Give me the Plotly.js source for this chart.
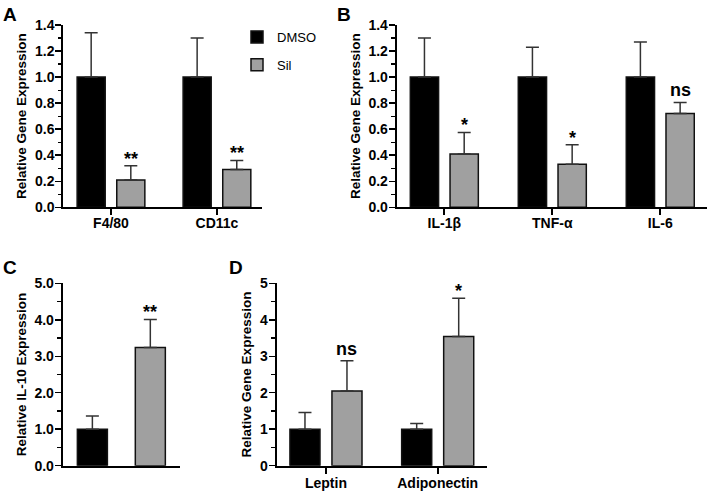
<!DOCTYPE html>
<html>
<head>
<meta charset="utf-8">
<script src="https://cdn.plot.ly/plotly-3.0.1.min.js"></script>
<style>html,body{margin:0;padding:0;background:#fff;}#chart{width:709px;height:491px;}</style>
</head>
<body>
<div id="chart"></div>
<script>
// ---- Data ----
const seriesNames = ['DMSO', 'Sil'];

const aCategories = ['F4/80', 'CD11c'];
const aDmso = [1.0, 1.0];
const aDmsoErr = [0.34, 0.30];
const aSil = [0.21, 0.29];
const aSilErr = [0.11, 0.07];
const aSig = ['**', '**'];

const bCategories = ['IL-1β', 'TNF-α', 'IL-6'];
const bDmso = [1.0, 1.0, 1.0];
const bDmsoErr = [0.30, 0.23, 0.27];
const bSil = [0.41, 0.33, 0.72];
const bSilErr = [0.165, 0.15, 0.085];
const bSig = ['*', '*', 'ns'];

const cCategories = ['IL-10'];
const cDmso = [1.0];
const cDmsoErr = [0.36];
const cSil = [3.24];
const cSilErr = [0.77];
const cSig = ['**'];

const dCategories = ['Leptin', 'Adiponectin'];
const dDmso = [1.0, 1.0];
const dDmsoErr = [0.46, 0.16];
const dSil = [2.05, 3.54];
const dSilErr = [0.83, 1.05];
const dSig = ['ns', '*'];

const yTitles = {
  A: 'Relative Gene Expression',
  B: 'Relative Gene Expression',
  C: 'Relative IL-10 Expression',
  D: 'Relative Gene Expression'
};
const panelLetters = ['A', 'B', 'C', 'D'];

// ---- Styles ----
const FONT = 'Liberation Sans, Arial, Helvetica, sans-serif';
const colors = { DMSO: '#000000', Sil: '#a0a0a0' };
const W = 709, H = 491;

const panels = [
  { key: 'A', cats: aCategories, dm: aDmso, dmE: aDmsoErr, si: aSil, siE: aSilErr, sig: aSig,
    xa: 'x', ya: 'y', px: [63.3, 262], py: [25, 207.3], xr: [-0.45, 1.425], yr: [0, 1.4], dtick: 0.2, minor: 0.1, fmt: '.1f',
    d: 0.187, w: 0.265, showX: true, legend: true },
  { key: 'B', cats: bCategories, dm: bDmso, dmE: bDmsoErr, si: bSil, siE: bSilErr, sig: bSig,
    xa: 'x2', ya: 'y2', px: [396.7, 706.7], py: [25, 207.3], xr: [-0.441, 2.43], yr: [0, 1.4], dtick: 0.2, minor: 0.1, fmt: '.1f',
    d: 0.184, w: 0.262, showX: true },
  { key: 'C', cats: cCategories, dm: cDmso, dmE: cDmsoErr, si: cSil, siE: cSilErr, sig: cSig,
    xa: 'x3', ya: 'y3', px: [62.7, 180], py: [283.3, 465.7], xr: [-0.5, 0.5], yr: [0, 5], dtick: 1, minor: 0.5, fmt: '.1f',
    d: 0.247, w: 0.256, showX: false },
  { key: 'D', cats: dCategories, dm: dDmso, dmE: dDmsoErr, si: dSil, siE: dSilErr, sig: dSig,
    xa: 'x4', ya: 'y4', px: [276.7, 487.3], py: [283.3, 465.7], xr: [-0.441, 1.444], yr: [0, 5], dtick: 1, minor: 0.5, fmt: 'd',
    d: 0.188, w: 0.269, showX: true }
];

const traces = [];
const annotations = [];
const layout = {
  width: W, height: H,
  margin: { l: 0, r: 0, t: 0, b: 0 },
  paper_bgcolor: '#fff', plot_bgcolor: 'rgba(0,0,0,0)',
  barmode: 'overlay',
  showlegend: true,
  legend: {
    x: 237 / W, y: 1 - 22 / H, xanchor: 'left', yanchor: 'top',
    font: { family: FONT, size: 13, color: '#000' },
    bgcolor: 'rgba(0,0,0,0)', tracegroupgap: 8, traceorder: 'grouped'
  },
  font: { family: FONT, color: '#000' },
  annotations: annotations
};

function errBar(arr) {
  return { type: 'data', array: arr, arrayminus: arr.map(() => 0), symmetric: false,
           color: '#333333', thickness: 1.5, width: 6.5, visible: true };
}

panels.forEach((p, pi) => {
  const idx = p.cats.map((c, i) => i);
  [['DMSO', p.dm, p.dmE, -p.d], ['Sil', p.si, p.siE, p.d]].forEach(([name, vals, errs, off]) => {
    traces.push({
      type: 'bar', name: name, x: idx, y: vals,
      xaxis: p.xa, yaxis: p.ya,
      width: p.w, offset: off - p.w / 2,
      marker: { color: colors[name], line: { color: '#111', width: 1.5 } },
      error_y: errBar(errs),
      legendgroup: name, showlegend: !!p.legend,
      hoverinfo: 'y'
    });
  });
  const axN = p.xa === 'x' ? '' : p.xa.slice(1);
  layout['xaxis' + axN] = {
    domain: [p.px[0] / W, p.px[1] / W],
    anchor: p.ya, range: p.xr, fixedrange: true,
    tickmode: 'array', tickvals: idx, ticktext: p.cats,
    showticklabels: p.showX, ticks: p.showX ? 'outside' : '', ticklen: 6, tickwidth: 2, tickcolor: '#000',
    ticklabelstandoff: p.key === 'D' ? -3 : -4,
    tickfont: { family: FONT, size: 14, weight: 700, color: '#000' },
    showline: true, linewidth: 2, linecolor: '#000', showgrid: false, zeroline: false
  };
  layout['yaxis' + axN] = {
    domain: [1 - p.py[1] / H, 1 - p.py[0] / H],
    anchor: p.xa, range: p.yr, fixedrange: true,
    dtick: p.dtick, tick0: 0, tickformat: p.fmt,
    ticks: 'outside', ticklen: 6, tickwidth: 1.5, tickcolor: '#000',
    ticklabelstandoff: -2,
    minor: { dtick: p.minor, ticks: 'outside', ticklen: 3.5, tickwidth: 1.2, tickcolor: '#000' },
    tickfont: { family: FONT, size: 14, weight: 700, color: '#000' },
    showline: true, linewidth: 2, linecolor: '#000', showgrid: false, zeroline: false,
    title: { text: yTitles[p.key], font: { family: FONT, size: 13.5, weight: 700, color: '#000' }, standoff: 5 }
  };
  // significance labels
  p.sig.forEach((s, i) => {
    const isStar = s.indexOf('*') >= 0;
    annotations.push({
      xref: p.xa, yref: p.ya, x: i + p.d, y: p.si[i] + p.siE[i],
      text: s, showarrow: false, xanchor: 'center', yanchor: 'bottom',
      yshift: isStar ? -5 : 0,
      font: { family: FONT, size: 18, weight: 700, color: '#000' }
    });
  });
});

// panel letters
const letterPos = { A: [1, 2], B: [335, 2], C: [1, 255], D: [227, 255] };
panelLetters.forEach(L => {
  annotations.push({
    xref: 'paper', yref: 'paper', x: letterPos[L][0] / W, y: 1 - letterPos[L][1] / H,
    xanchor: 'left', yanchor: 'top', text: L, showarrow: false,
    font: { family: FONT, size: 19, weight: 700, color: '#000' }
  });
});

Plotly.newPlot('chart', traces, layout, { staticPlot: true, displayModeBar: false });
</script>
</body>
</html>
